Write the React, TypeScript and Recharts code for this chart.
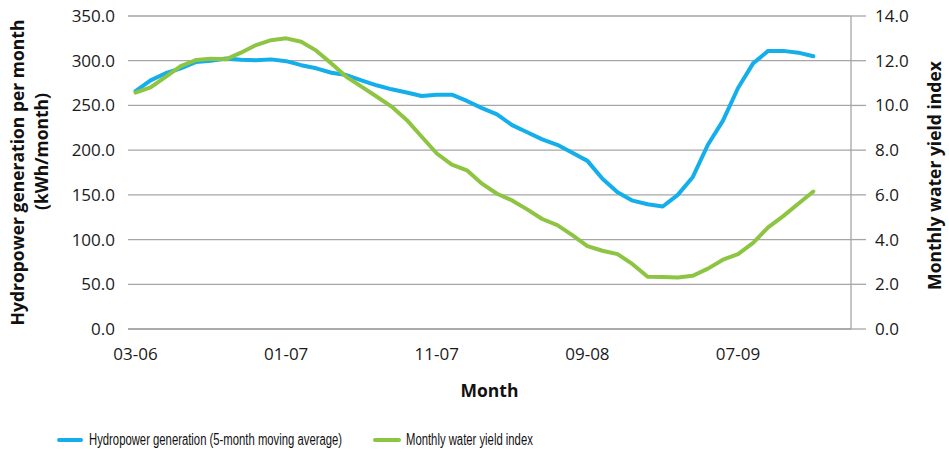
import React from 'react';
import { LineChart, Line, XAxis, YAxis, CartesianGrid, Legend, Label } from 'recharts';

const months = [
  '03-06', '04-06', '05-06', '06-06', '07-06', '08-06', '09-06', '10-06', '11-06', '12-06',
  '01-07', '02-07', '03-07', '04-07', '05-07', '06-07', '07-07', '08-07', '09-07', '10-07',
  '11-07', '12-07', '01-08', '02-08', '03-08', '04-08', '05-08', '06-08', '07-08', '08-08',
  '09-08', '10-08', '11-08', '12-08', '01-09', '02-09', '03-09', '04-09', '05-09', '06-09',
  '07-09', '08-09', '09-09', '10-09', '11-09', '12-09', '01-10', '02-10',
];

const hydropower = [
  266, 278, 286, 291.5, 298.5, 300, 302.5, 301, 300.5, 301.5,
  299.5, 295, 291.5, 286.5, 284, 278, 272.5, 268, 264.5, 260.5,
  262, 262, 255, 247, 240, 228, 220, 212, 206, 197,
  188, 168, 153, 143.5, 139.5, 137, 150, 170, 206, 233,
  269.5, 297, 311, 311, 309, 305,
];

const waterYield = [
  10.57, 10.81, 11.28, 11.76, 12.03, 12.09, 12.06, 12.36, 12.7, 12.92,
  13.0, 12.85, 12.45, 11.88, 11.28, 10.84, 10.4, 9.95, 9.35, 8.6,
  7.85, 7.35, 7.1, 6.5, 6.05, 5.75, 5.35, 4.92, 4.65, 4.2,
  3.71, 3.5, 3.35, 2.9, 2.34, 2.33, 2.3, 2.38, 2.7, 3.1,
  3.35, 3.85, 4.55, 5.05, 5.6, 6.15,
];

const leftTicks = [0, 50, 100, 150, 200, 250, 300, 350];
const rightTicks = [0, 2, 4, 6, 8, 10, 12, 14];
const monthTicks = [0, 10, 20, 30, 40];

const seriesNames = {
  hydro: 'Hydropower generation (5-month moving average)',
  water: 'Monthly water yield index',
};

const BLUE = '#14AEEA';
const GREEN = '#8DC542';
const GRID = '#A6A6A6';
const FONT = '"Open Sans", "Noto Sans", sans-serif';
const LEGEND_FONT = '"Liberation Sans", Arial, sans-serif';

const data = months.map((m, i) => ({
  idx: i,
  month: m,
  hydro: i < hydropower.length ? hydropower[i] : null,
  water: i < waterYield.length ? waterYield[i] : null,
}));

const tickStyle = { fontFamily: FONT, fontSize: 17, fill: '#1a1a1a' };

const LeftTitle = (props: any) => {
  const vb = props.viewBox || { x: 0, y: 16, width: 128, height: 313 };
  const cy = vb.y + vb.height / 2;
  return (
    <g style={{ fontFamily: FONT, fontSize: 17.5, fontWeight: 700, fill: '#111' }}>
      <text x={24} y={cy} textAnchor="middle" transform={`rotate(-90 24 ${cy})`}>
        Hydropower generation per month
      </text>
      <text x={48} y={cy - 21} textAnchor="middle" transform={`rotate(-90 48 ${cy - 21})`}>
        (kWh/month)
      </text>
    </g>
  );
};

const RightTitle = (props: any) => {
  const vb = props.viewBox || { x: 851, y: 16, width: 98, height: 313 };
  const cy = vb.y + vb.height / 2 + 3;
  const cx = 941;
  return (
    <text
      x={cx}
      y={cy}
      textAnchor="middle"
      transform={`rotate(-90 ${cx} ${cy})`}
      style={{ fontFamily: FONT, fontSize: 17.5, fontWeight: 700, fill: '#111' }}
    >
      Monthly water yield index
    </text>
  );
};

const legendText: React.CSSProperties = {
  position: 'absolute',
  top: 3,
  lineHeight: '20px',
  whiteSpace: 'nowrap',
  transform: 'scaleX(0.706)',
  transformOrigin: 'left center',
};

const renderLegend = () => (
  <div style={{ position: 'relative', width: 949, height: 26, fontFamily: LEGEND_FONT, fontSize: 16, color: '#111' }}>
    <div style={{ position: 'absolute', left: 57, top: 11, width: 26, height: 4, background: BLUE, borderRadius: 2 }} />
    <div style={{ ...legendText, left: 89 }}>{seriesNames.hydro}</div>
    <div style={{ position: 'absolute', left: 373, top: 11, width: 28, height: 4, background: GREEN, borderRadius: 2 }} />
    <div style={{ ...legendText, left: 406 }}>{seriesNames.water}</div>
  </div>
);

export default function App() {
  return (
    <div style={{ position: 'absolute', left: 0, top: 0, width: 949, height: 453, background: '#fff' }}>
      <LineChart width={949} height={453} data={data} margin={{ top: 16, right: 0, left: 0, bottom: 0 }}>
        <CartesianGrid yAxisId="left" vertical={false} stroke={GRID} strokeWidth={1.3} />
        <XAxis
          dataKey="idx"
          type="number"
          domain={[-0.5, 47.5]}
          ticks={monthTicks}
          tickFormatter={(v: number) => months[v]}
          height={98}
          tickSize={0}
          tickMargin={19}
          tickLine={false}
          axisLine={{ stroke: GRID, strokeWidth: 1.3 }}
          tick={tickStyle}
          interval={0}
        >
          <Label
            value="Month"
            position="insideBottom"
            offset={30}
            style={{ fontFamily: FONT, fontSize: 17.5, fontWeight: 700, fill: '#111' }}
          />
        </XAxis>
        <YAxis
          yAxisId="left"
          domain={[0, 350]}
          ticks={leftTicks}
          width={128}
          axisLine={false}
          tickLine={false}
          tickSize={0}
          tickMargin={13}
          tick={tickStyle}
          tickFormatter={(v: number) => v.toFixed(1)}
          interval={0}
        >
          <Label content={LeftTitle} />
        </YAxis>
        <YAxis
          yAxisId="right"
          orientation="right"
          domain={[0, 14]}
          ticks={rightTicks}
          width={98}
          axisLine={{ stroke: GRID, strokeWidth: 1.3 }}
          tickLine={{ stroke: GRID, strokeWidth: 1.3 }}
          tickSize={15}
          tickMargin={9}
          tick={tickStyle}
          tickFormatter={(v: number) => v.toFixed(1)}
          interval={0}
        >
          <Label content={RightTitle} />
        </YAxis>
        <Legend verticalAlign="bottom" content={renderLegend} />
        <Line
          yAxisId="left"
          type="linear"
          dataKey="hydro"
          name={seriesNames.hydro}
          stroke={BLUE}
          strokeWidth={4}
          dot={false}
          strokeLinejoin="round"
          strokeLinecap="round"
          isAnimationActive={false}
        />
        <Line
          yAxisId="right"
          type="linear"
          dataKey="water"
          name={seriesNames.water}
          stroke={GREEN}
          strokeWidth={4}
          dot={false}
          strokeLinejoin="round"
          strokeLinecap="round"
          isAnimationActive={false}
        />
      </LineChart>
    </div>
  );
}
